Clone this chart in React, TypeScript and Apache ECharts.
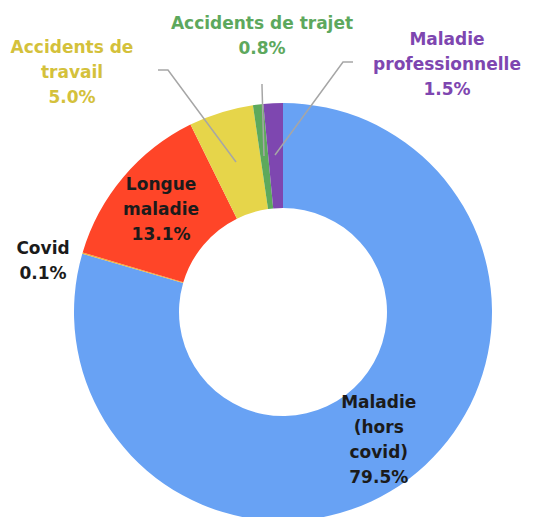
import { useEffect, useRef } from "react";
import * as echarts from "echarts";

const categories = [
  "Maladie (hors covid)",
  "Covid",
  "Longue maladie",
  "Accidents de travail",
  "Accidents de trajet",
  "Maladie professionnelle",
];
const labelNames = [
  "Maladie\n(hors\ncovid)",
  "Covid",
  "Longue\nmaladie",
  "Accidents de\ntravail",
  "Accidents de trajet",
  "Maladie\nprofessionnelle",
];
const shares = [79.5, 0.1, 13.1, 5.0, 0.8, 1.5];
const sliceColors = ["#68A2F4", "#F0B233", "#FF4528", "#E6D54A", "#5DA95C", "#7E47B0"];
const textColors = ["#1B1B1B", "#1B1B1B", "#1B1B1B", "#D4C13B", "#5DA85D", "#7E46B0"];
const insideLabels = [true, false, true, false, false, false];
const showLeader = [false, false, false, true, true, true];

// label placement (styling only)
const outsideLayout: Record<number, { x: number; y: number; line?: number[][] }> = {
  1: { x: 43, y: 260 },
  3: { x: 72, y: 72, line: [[158, 70], [168, 70], [236, 162]] },
  4: { x: 262, y: 35, line: [[262, 84], [262, 86], [264, 156]] },
  5: { x: 447, y: 64, line: [[353, 62], [343, 62], [275, 155]] },
};

export default function App() {
  const ref = useRef<HTMLDivElement>(null);
  useEffect(() => {
    document.body.style.margin = "0";
    const chart = echarts.init(ref.current!, undefined, { renderer: "svg" });
    const sliceData = categories.map((name, i) => ({
      name,
      value: shares[i],
      itemStyle: { color: sliceColors[i] },
    }));
    const labelData = categories.map((name, i) => ({
      name,
      value: shares[i],
      itemStyle: { color: "rgba(0,0,0,0)" },
      label: {
        show: true,
        position: insideLabels[i] ? "inside" : "outside",
        color: textColors[i],
        formatter: () => `${labelNames[i]}\n${shares[i].toFixed(1)}%`,
      },
      labelLine: {
        show: showLeader[i],
        lineStyle: { color: "#A6A6A6", width: 1.5 },
      },
    }));
    const common = {
      type: "pie",
      center: [283, 312],
      radius: [104, 209],
      startAngle: 90,
      clockwise: true,
      avoidLabelOverlap: false,
      silent: true,
    };
    chart.setOption({
      animation: false,
      backgroundColor: "#ffffff",
      series: [
        {
          ...common,
          z: 2,
          itemStyle: { borderWidth: 0 },
          label: { show: false },
          labelLine: { show: false },
          data: sliceData,
        },
        {
          ...common,
          z: 5,
          itemStyle: { borderWidth: 0 },
          label: {
            fontFamily: "DejaVu Sans",
            fontWeight: "bold",
            fontSize: 17,
            lineHeight: 25,
            align: "center",
          },
          labelLayout: (params: any) => {
            const p = outsideLayout[params.dataIndex];
            if (!p) return {};
            const out: any = { x: p.x, y: p.y, align: "center", verticalAlign: "middle" };
            if (p.line) out.labelLinePoints = p.line;
            return out;
          },
          data: labelData,
        },
      ],
    });
    return () => chart.dispose();
  }, []);
  return <div ref={ref} style={{ width: 534, height: 517 }} />;
}
